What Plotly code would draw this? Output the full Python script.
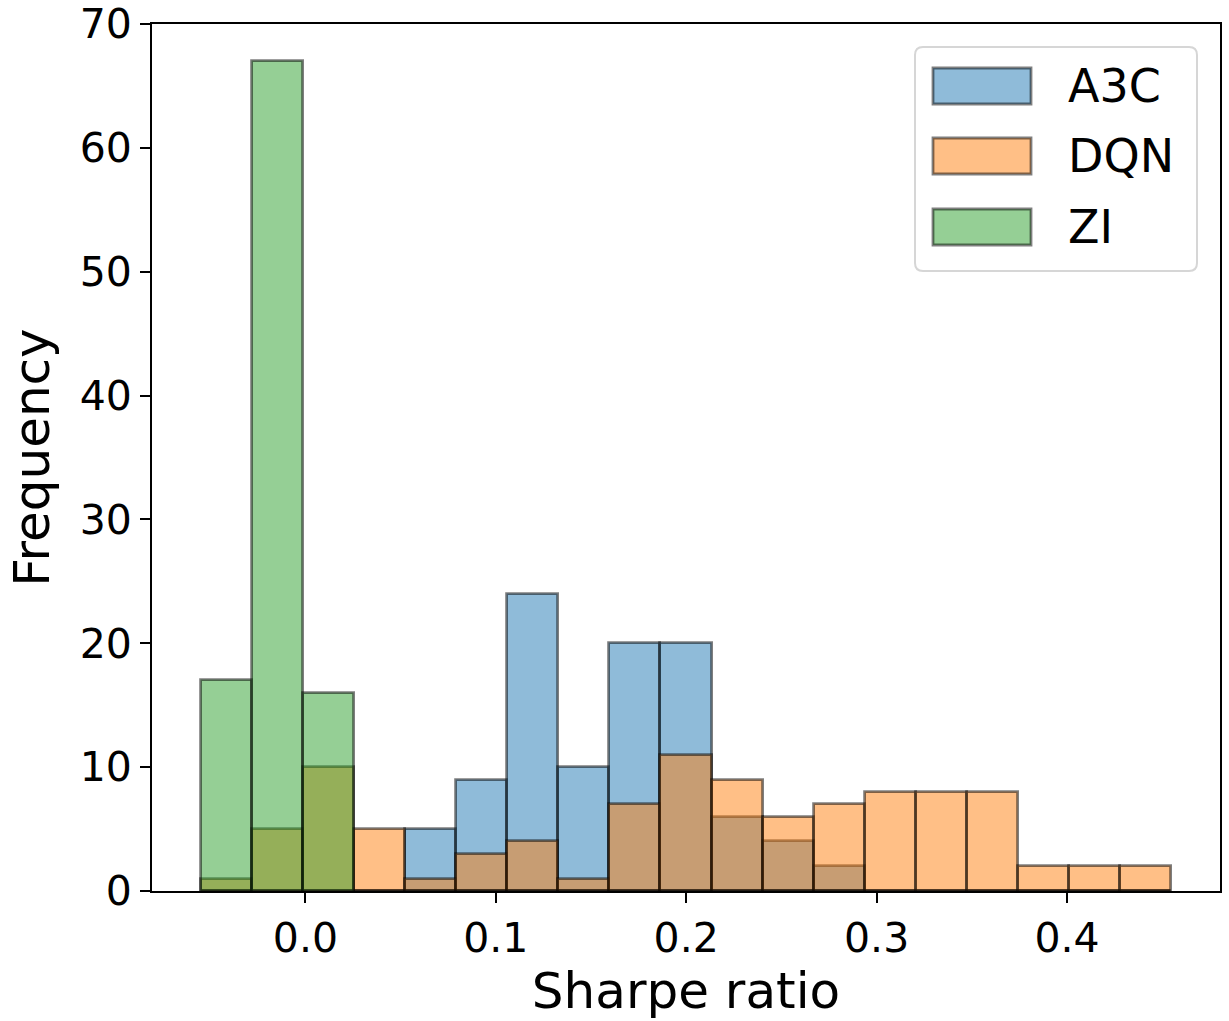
import plotly.graph_objects as go

# Histogram bins (shared by all series)
bin_start = -0.0551
bin_width = 0.02684
n_bins = 19

series_names = ["A3C", "DQN", "ZI"]
a3c_counts = [0, 0, 0, 0, 5, 9, 24, 10, 20, 20, 6, 4, 2, 0, 0, 0, 0, 0, 0]
dqn_counts = [1, 5, 10, 5, 1, 3, 4, 1, 7, 11, 9, 6, 7, 8, 8, 8, 2, 2, 2]
zi_counts = [17, 67, 16, 0, 0, 0, 0, 0, 0, 0, 0, 0, 0, 0, 0, 0, 0, 0, 0]

x_ticks = [0.0, 0.1, 0.2, 0.3, 0.4]
y_ticks = [0, 10, 20, 30, 40, 50, 60, 70]

fills = ["rgba(31,119,180,0.5)", "rgba(255,127,14,0.5)", "rgba(44,160,44,0.5)"]
edge = "rgba(0,0,0,0.5)"

centers = [bin_start + (i + 0.5) * bin_width for i in range(n_bins)]
bin_end = bin_start + n_bins * bin_width
span = bin_end - bin_start
x_range = [bin_start - 0.05 * span, bin_end + 0.05 * span]

fig = go.Figure()
for name, counts, col in zip(series_names, [a3c_counts, dqn_counts, zi_counts], fills):
    fig.add_trace(go.Bar(
        x=centers, y=counts, width=bin_width, name=name,
        marker=dict(color=col, line=dict(color=edge, width=2.8)),
        showlegend=False,
    ))

W, H = 1229, 1021
L, R, T, B = 152, 9, 24, 130
pw, ph = W - L - R, H - T - B

def px(x):
    return (x - L) / pw

def py(y):
    return (H - B - y) / ph

shapes = []
annotations = []
# legend frame (rounded)
x0, x1, y0, y1, r = 915, 1197, 47, 271, 8
path = (f"M {px(x0 + r)},{py(y0)} L {px(x1 - r)},{py(y0)} "
        f"Q {px(x1)},{py(y0)} {px(x1)},{py(y0 + r)} "
        f"L {px(x1)},{py(y1 - r)} Q {px(x1)},{py(y1)} {px(x1 - r)},{py(y1)} "
        f"L {px(x0 + r)},{py(y1)} Q {px(x0)},{py(y1)} {px(x0)},{py(y1 - r)} "
        f"L {px(x0)},{py(y0 + r)} Q {px(x0)},{py(y0)} {px(x0 + r)},{py(y0)} Z")
shapes.append(dict(type="path", xref="paper", yref="paper", path=path,
                   fillcolor="rgba(255,255,255,0.8)", line=dict(color="#d6d6d6", width=2)))
row_tops = [68, 138, 209]
for name, col, top in zip(series_names, fills, row_tops):
    shapes.append(dict(type="rect", xref="paper", yref="paper",
                       x0=px(933), x1=px(1031), y0=py(top + 36), y1=py(top),
                       fillcolor=col, line=dict(color=edge, width=2.8)))
    annotations.append(dict(xref="paper", yref="paper", x=px(1066), y=py(top + 18),
                            text=name, showarrow=False, xanchor="left", yanchor="middle",
                            font=dict(size=46, color="black", family="DejaVu Sans")))

axis_common = dict(
    showline=True, linecolor="black", linewidth=2, mirror=True,
    ticks="outside", ticklen=10, tickwidth=2, tickcolor="black",
    showgrid=False, zeroline=False, automargin=False,
    tickfont=dict(size=41, color="black", family="DejaVu Sans"),
)

fig.update_layout(
    width=W, height=H,
    margin=dict(l=L, r=R, t=T, b=B),
    paper_bgcolor="white", plot_bgcolor="white",
    barmode="overlay", bargap=0,
    font=dict(family="DejaVu Sans", color="black"),
    shapes=shapes, annotations=annotations,
    xaxis=dict(range=x_range, tickvals=x_ticks, tickformat=".1f",
               title=dict(text="Sharpe ratio", font=dict(size=50, color="black"), standoff=12),
               **axis_common),
    yaxis=dict(range=[0, 70], tickvals=y_ticks,
               title=dict(text="Frequency", font=dict(size=50, color="black"), standoff=14),
               **axis_common),
)

fig.write_html("out.html")
